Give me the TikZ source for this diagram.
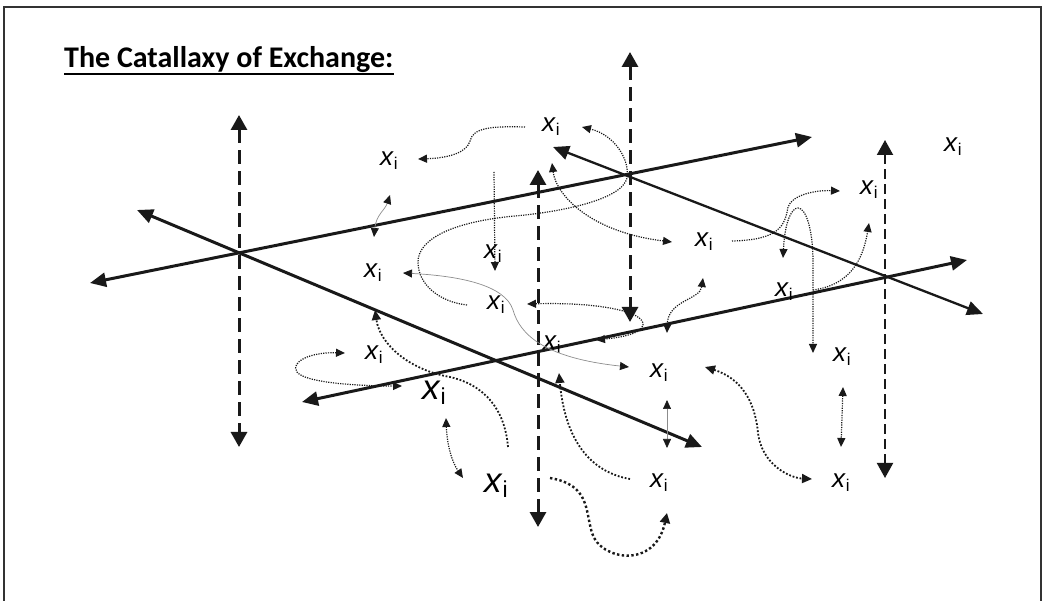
\documentclass[tikz,border=0pt]{standalone}
\usepackage{fontspec}
\setmainfont{Liberation Sans}
\newfontfamily\titlefont{Carlito}
\usetikzlibrary{arrows.meta}
\newcommand{\xsmall}{\textit{x}\lower4pt\hbox{\fontsize{17}{17}\selectfont i}}
\newcommand{\xlarge}{\textit{x}\lower5pt\hbox{\fontsize{23}{23}\selectfont i}}

\begin{document}
\begin{tikzpicture}[x=1pt,y=-1pt,
  >={Triangle[length=9pt,width=8pt]},
  frame/.style={draw=black!80,line width=2.5pt},
  title/.style={anchor=base west,inner sep=0pt,font=\titlefont\bfseries\fontsize{30}{30}\selectfont},
  axis/.style={draw=black!90,line width=3pt,>={Triangle[length=16pt,width=14pt]},<->},
  level/.style={draw=black!90,line width=3pt,dash pattern=on 14pt off 7pt,>={Triangle[length=15pt,width=16pt]},<->},
  flow/.style={draw=black!90,line width=1.2pt,dash pattern=on 1.2pt off 1.2pt},
  midflow/.style={draw=black!90,line width=1.8pt,dash pattern=on 1.8pt off 1.8pt,>={Triangle[length=10pt,width=9pt]}},
  bigflow/.style={draw=black!90,line width=2.4pt,dash pattern=on 2.4pt off 2.4pt,>={Triangle[length=10pt,width=10pt]}},
  trace/.style={draw=black!45,line width=0.7pt,>={Triangle[length=9pt,width=8pt,color=black!90]}},
  agent/.style={anchor=base west,inner sep=0pt,font=\fontsize{26}{26}\selectfont},
  bigagent/.style={agent,font=\fontsize{35}{35}\selectfont}]
  \useasboundingbox (0,0) rectangle (1042,601);
  \draw[frame] (4,601) -- (4,7) -- (1041,7) -- (1041,601);

  \node[title] (title) at (64,68) {The Catallaxy of Exchange:};
  \draw[line width=2pt] ([yshift=-6pt]title.base west) -- ([yshift=-6pt]title.base east);

  % exchange planes
  \coordinate (a1) at (90,283);  \coordinate (a2) at (812,137);
  \coordinate (b1) at (137,210); \coordinate (b2) at (702,447);
  \coordinate (c1) at (553,147); \coordinate (c2) at (983,314);
  \coordinate (d1) at (302,402); \coordinate (d2) at (967,260);
  \draw[axis] (a1) -- (a2);
  \draw[axis] (b1) -- (b2);
  \draw[axis,line width=2.3pt] (c1) -- (c2);
  \draw[axis] (d1) -- (d2);

  % vertical levels
  \coordinate (v1t) at (239,115); \coordinate (v1b) at (239,447);
  \coordinate (v2t) at (630,52);  \coordinate (v2b) at (630,322);
  \coordinate (v3t) at (538,170); \coordinate (v3b) at (538,527);
  \coordinate (v4t) at (885,140); \coordinate (v4b) at (885,478);
  \draw[level] (v1t) -- (v1b);
  \draw[level] (v2t) -- (v2b);
  \draw[level] (v3t) -- (v3b);
  \draw[level,line width=2pt,dash pattern=on 10pt off 5pt] (v4t) -- (v4b);

  % agents
  \node[agent] (x1) at (542,132) {\xsmall};
  \node[agent] (x2) at (380,166) {\xsmall};
  \node[agent] (x3) at (944,152) {\xsmall};
  \node[agent] (x4) at (860,195) {\xsmall};
  \node[agent] (x5) at (484,259) {\xsmall};
  \node[agent] (x6) at (695,247) {\xsmall};
  \node[agent] (x7) at (364,278) {\xsmall};
  \node[agent] (x8) at (487,310) {\xsmall};
  \node[agent] (x9) at (775,297) {\xsmall};
  \node[agent] (x10) at (543,350) {\xsmall};
  \node[agent] (x11) at (365,360) {\xsmall};
  \node[agent] (x12) at (650,378) {\xsmall};
  \node[agent] (x13) at (833,362) {\xsmall};
  \node[bigagent] (x14) at (422,400) {\xlarge};
  \node[bigagent] (x15) at (484,493) {\xlarge};
  \node[agent] (x16) at (650,487) {\xsmall};
  \node[agent] (x17) at (832,487) {\xsmall};

  % flows
  \coordinate (fa0) at (525,127); \coordinate (fa1) at (418,159);
  \draw[flow,->] (fa0) .. controls (490,126) and (473,128) .. (470,141) .. controls (467,152) and (450,158) .. (fa1);
  \coordinate (fb0) at (467,305); \coordinate (fb1) at (582,127);
  \draw[flow,->] (fb0) .. controls (440,302) and (418,285) .. (418,262) .. controls (418,240) and (450,222) .. (515,216)
    .. controls (560,212) and (622,200) .. (627,178) .. controls (630,160) and (615,135) .. (fb1);
  \coordinate (fc0) at (552,163); \coordinate (fc1) at (672,242);
  \draw[flow,<->] (fc0) .. controls (556,195) and (590,232) .. (fc1);
  \coordinate (fd0) at (494,172); \coordinate (fd1) at (495,271);
  \draw[flow,->] (fd0) -- (fd1);
  \coordinate (fe0) at (390,195); \coordinate (fe1) at (374,237);
  \draw[trace,<->] (fe0) .. controls (385,210) and (376,215) .. (fe1);
  \coordinate (ff0) at (403,273); \coordinate (ff1) at (629,367);
  \draw[trace,<->] (ff0) .. controls (460,276) and (505,285) .. (513,310) .. controls (520,335) and (545,358) .. (ff1);
  \coordinate (fg0) at (527,304); \coordinate (fg1) at (596,340);
  \draw[flow,<->] (fg0) .. controls (600,302) and (645,312) .. (643,325) .. controls (641,335) and (615,338) .. (fg1);
  \coordinate (fh0) at (703,278); \coordinate (fh1) at (667,333);
  \draw[flow,<->] (fh0) .. controls (700,300) and (668,300) .. (fh1);
  \coordinate (fi0) at (732,241); \coordinate (fi1) at (840,191);
  \draw[flow,->] (fi0) .. controls (780,240) and (785,225) .. (788,207) .. controls (792,195) and (815,190) .. (fi1);
  \coordinate (fj0) at (783,258); \coordinate (fj1) at (813,353);
  \draw[flow,<->] (fj0) .. controls (785,220) and (792,208) .. (798,208) .. controls (806,208) and (813,230) .. (813,262) -- (fj1);
  \coordinate (fk0) at (813,290); \coordinate (fk1) at (869,223);
  \draw[flow,->] (fk0) .. controls (850,285) and (863,260) .. (fk1);
  \coordinate (fl0) at (345,353); \coordinate (fl1) at (402,386);
  \draw[flow,<->] (fl0) .. controls (310,352) and (290,362) .. (297,372) .. controls (305,383) and (360,386) .. (fl1);
  \coordinate (fm0) at (508,447); \coordinate (fm1) at (375,310);
  \draw[midflow,->] (fm0) .. controls (505,410) and (485,385) .. (450,377) .. controls (410,370) and (380,345) .. (fm1);
  \coordinate (fn0) at (446,418); \coordinate (fn1) at (463,478);
  \draw[flow,<->] (fn0) .. controls (447,445) and (452,462) .. (fn1);
  \coordinate (fo0) at (630,479); \coordinate (fo1) at (559,373);
  \draw[midflow,->] (fo0) .. controls (590,472) and (565,440) .. (fo1);
  \coordinate (fp0) at (667,400); \coordinate (fp1) at (667,448);
  \draw[trace,<->] (fp0) -- (fp1);
  \coordinate (fq0) at (705,367); \coordinate (fq1) at (812,479);
  \draw[midflow,<->] (fq0) .. controls (740,378) and (755,400) .. (758,433) .. controls (762,465) and (790,478) .. (fq1);
  \coordinate (fr0) at (843,387); \coordinate (fr1) at (841,447);
  \draw[flow,<->] (fr0) -- (fr1);
  \coordinate (fs0) at (550,478); \coordinate (fs1) at (667,513);
  \draw[bigflow,->] (fs0) .. controls (590,485) and (585,510) .. (592,533) .. controls (600,560) and (655,570) .. (fs1);
\end{tikzpicture}
\end{document}
